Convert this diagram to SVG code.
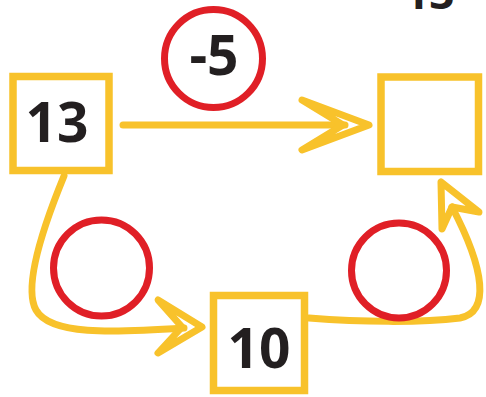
<svg xmlns="http://www.w3.org/2000/svg" width="486" height="397" viewBox="0 0 486 397">
  <style>
    .box { fill: #ffffff; stroke: #F8C22B; stroke-width: 7.5; }
    .ring { fill: #ffffff; stroke: #E01F26; stroke-width: 7; }
    .shaft { fill: none; stroke: #F8C22B; stroke-width: 7; stroke-linecap: round; }
    .head { fill: none; stroke: #F8C22B; stroke-width: 7; stroke-linejoin: round; }
    .num { font-family: "Open Sans", "DejaVu Sans", sans-serif; font-weight: 700; fill: #231F20; text-anchor: middle; }
    .title { font-family: "Open Sans", "DejaVu Sans", sans-serif; font-weight: 700; fill: #231F20; }
  </style>
  <rect width="486" height="397" fill="#ffffff"/>
  <text class="title" x="404" y="9" font-size="44">13 - 5</text>
  <g id="connectors">
    <path class="shaft" d="M123,125 L345,125"/>
    <polygon class="head" points="369,125 302,100 343,125 302,150"/>
    <path class="shaft" d="M64,176 C48,215 22,285 36,310 C50,335 110,333 184,328"/>
    <polygon class="head" points="202,327 158,300 182,327 158,353"/>
    <path class="shaft" d="M309,318 C360,322 420,323 460,318 C490,312 485,270 452,207"/>
    <polygon class="head" points="441,182 442,229 452,207 479,212"/>
  </g>
  <g id="node-13">
    <rect class="box" x="13" y="76.5" width="96" height="94"/>
    <text class="num" x="57" y="142" font-size="55">13</text>
  </g>
  <g id="node-blank">
    <rect class="box" x="381" y="77" width="97.5" height="94.5"/>
  </g>
  <g id="node-10">
    <rect class="box" x="213.5" y="295.5" width="91" height="95"/>
    <text class="num" x="259" y="368" font-size="55">10</text>
  </g>
  <g id="op-minus5">
    <circle class="ring" cx="213.5" cy="58.5" r="49"/>
    <text class="num" x="214" y="75" font-size="55">-5</text>
  </g>
  <g id="op-left">
    <circle class="ring" cx="101.5" cy="268" r="48"/>
  </g>
  <g id="op-right">
    <circle class="ring" cx="399" cy="270.5" r="47.5"/>
  </g>
</svg>
